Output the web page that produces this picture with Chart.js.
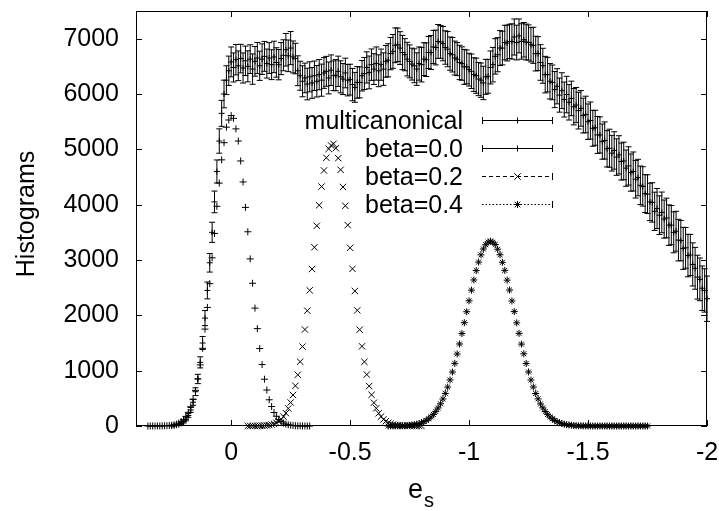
<!DOCTYPE html>
<html>
<head>
<meta charset="utf-8">
<title>Histograms</title>
<script src="https://cdn.jsdelivr.net/npm/chart.js@4.4.0/dist/chart.umd.min.js"></script>
<style>
  html, body { margin: 0; padding: 0; background: #fff; }
  #wrap { width: 719px; height: 511px; }
</style>
</head>
<body>
<div id="wrap"><canvas id="histo" width="719" height="511"></canvas></div>
<script>
// axis ticks
const xTicks = [0, -0.5, -1, -1.5, -2];
const yTicks = [0, 1000, 2000, 3000, 4000, 5000, 6000, 7000];

// histogram bins are 0.01 wide in e_s, listed from the left (largest e_s) to the right
const binWidth = 0.01;

const seriesNames = ['multicanonical', 'beta=0.0', 'beta=0.2', 'beta=0.4'];

// multicanonical run, first bin at e_s = 0.25, last at -2.00
const multiStart = 0.25;
const multiValues = [
  3, 7, 14, 25, 45, 75, 120, 190, 290, 430,
  620, 850, 1150, 1500, 1950, 2450, 2950, 3500, 4050, 4600,
  5150, 5650, 6000, 6250, 6420, 6580, 6480, 6620, 6510, 6640,
  6470, 6600, 6500, 6630, 6450, 6590, 6650, 6510, 6630, 6680,
  6550, 6650, 6530, 6670, 6570, 6530, 6640, 6700, 6800, 6690,
  6830, 6670, 6640, 6420, 6330, 6230, 6290, 6180, 6310, 6200,
  6330, 6230, 6350, 6250, 6380, 6410, 6290, 6430, 6330, 6340,
  6410, 6310, 6270, 6380, 6250, 6260, 6170, 6120, 6210, 6210,
  6330, 6370, 6480, 6390, 6530, 6450, 6550, 6420, 6530, 6450,
  6590, 6610, 6730, 6770, 6880, 6890, 6830, 6750, 6710, 6630,
  6590, 6540, 6510, 6450, 6550, 6530, 6630, 6620, 6750, 6750,
  6850, 6840, 6950, 6940, 6910, 6840, 6810, 6730, 6710, 6650,
  6630, 6570, 6550, 6490, 6490, 6440, 6410, 6350, 6330, 6270,
  6250, 6200, 6310, 6320, 6480, 6530, 6680, 6710, 6830, 6830,
  6930, 6920, 6950, 6950, 7030, 6930, 7050, 6950, 6980, 6940,
  6930, 6890, 6880, 6730, 6730, 6570, 6510, 6350, 6350, 6230,
  6210, 6080, 6140, 5980, 6060, 5900, 5990, 5850, 5920, 5770,
  5800, 5700, 5740, 5610, 5630, 5500, 5520, 5380, 5390, 5260,
  5260, 5140, 5160, 5010, 5020, 4930, 4980, 4860, 4900, 4780,
  4790, 4660, 4700, 4580, 4600, 4460, 4490, 4350, 4330, 4200,
  4190, 4050, 4040, 3880, 3930, 3810, 3860, 3740, 3760, 3630,
  3630, 3500, 3520, 3360, 3350, 3210, 3220, 3080, 3090, 2920,
  2850, 2690, 2650, 2490, 2450, 2300
];
const multiErrors = [
  4, 6, 8, 11, 15, 20, 26, 34, 44, 56,
  70, 84, 100, 118, 136, 152, 168, 182, 196, 208,
  220, 235, 250, 260, 265, 270, 262, 275, 268, 258,
  272, 266, 280, 260, 274, 268, 282, 264, 276, 270,
  262, 278, 270, 284, 266, 274, 290, 280, 294, 286,
  300, 288, 276, 270, 262, 280, 268, 286, 272, 278,
  266, 284, 274, 290, 278, 270, 288, 276, 268, 282,
  274, 290, 280, 268, 284, 278, 292, 270, 286, 280,
  276, 290, 282, 296, 284, 278, 300, 288, 282, 294,
  286, 300, 292, 306, 314, 302, 296, 310, 290, 304,
  298, 288, 306, 294, 300, 312, 296, 304, 290, 308,
  300, 314, 306, 296, 310, 302, 318, 300, 312, 306,
  298, 310, 302, 316, 306, 296, 312, 304, 318, 300,
  310, 302, 316, 306, 298, 312, 320, 308, 316, 304,
  312, 322, 310, 318, 326, 314, 306, 320, 312, 324,
  318, 310, 326, 314, 306, 322, 316, 330, 312, 320,
  314, 326, 318, 308, 324, 316, 330, 320, 312, 328,
  318, 332, 322, 314, 330, 320, 336, 324, 316, 334,
  326, 318, 336, 328, 344, 322, 338, 330, 346, 334,
  340, 328, 346, 336, 352, 340, 330, 348, 356, 342,
  350, 338, 356, 346, 362, 350, 368, 344, 358, 366,
  354, 370, 360, 376, 364, 380, 368, 384, 372, 390,
  378, 396, 386, 402, 392, 410
];

// canonical runs
const beta00Start = 0.35;
const beta00Values = [
  0, 0, 0, 0, 1, 1, 2,
  3, 5, 8, 14, 22, 34, 53, 80, 119, 173,
  247, 348, 478, 644, 851, 1104, 1404, 1751, 2143, 2572,
  3040, 3480, 3970, 4390, 4810, 5120, 5400, 5530, 5610, 5560,
  5370, 5150, 4790, 4410, 3950, 3510, 3020, 2580, 2130, 1760,
  1400, 1110, 846, 650, 474, 352, 244, 176, 117, 82,
  53, 34, 22, 14, 8, 5, 3, 2, 1, 1,
  0, 0
];

const beta02Start = -0.07;
const beta02Values = [
  0, 0, 1, 1, 2, 3, 4, 7, 11, 17,
  26, 39, 58, 84, 120, 168, 233, 317, 425, 560,
  726, 926, 1162, 1435, 1743, 2084, 2452, 2837, 3230, 3619,
  3990, 4327, 4618, 4848, 5008, 5070, 5100, 5020, 4840, 4630,
  4320, 3980, 3630, 3220, 2840, 2440, 2090, 1740, 1440, 1160,
  930, 722, 564, 421, 320, 230, 170, 118, 86, 57,
  40, 25, 17, 11, 7, 4, 3, 2, 1, 1,
  0, 0, 0, 0
];

const beta04Start = -0.66;
const beta04Values = [
  0, 1, 1, 2, 2, 3, 4, 6, 9, 13,
  18, 24, 33, 44, 59, 77, 100, 130, 165, 209,
  263, 326, 401, 488, 589, 703, 833, 975, 1132, 1302,
  1482, 1671, 1867, 2065, 2263, 2455, 2639, 2809, 2962, 3093,
  3199, 3276, 3324, 3340, 3320, 3280, 3195, 3095, 2958, 2812,
  2636, 2458, 2260, 2068, 1864, 1674, 1480, 1305, 1130, 977,
  831, 705, 587, 490, 399, 328, 262, 210, 164, 131,
  100, 77, 59, 44, 33, 24, 18, 13, 9, 6,
  4, 3, 2, 2, 1, 1, 0, 0, 0, 0,
  0, 0, 0, 0, 0, 0, 0, 0, 0, 0,
  0, 0, 0, 0, 0, 0, 0, 0, 0, 0
];

function toPoints(start, values) {
  return values.map((v, i) => ({ x: +(start - i * binWidth).toFixed(2), y: v }));
}

const multiPoints = toPoints(multiStart, multiValues);
const fontFamily = '"Liberation Sans", Arial, Helvetica, sans-serif';

// error bars of the multicanonical run
const errorBars = {
  id: 'errorBars',
  afterDatasetsDraw(chart) {
    const ctx = chart.ctx, xs = chart.scales.x, ys = chart.scales.y;
    ctx.save();
    ctx.strokeStyle = '#000';
    ctx.lineWidth = 1;
    ctx.beginPath();
    multiPoints.forEach((p, i) => {
      const px = xs.getPixelForValue(p.x);
      const top = ys.getPixelForValue(p.y + multiErrors[i]);
      const bot = ys.getPixelForValue(Math.max(0, p.y - multiErrors[i]));
      ctx.moveTo(px, top); ctx.lineTo(px, bot);
      ctx.moveTo(px - 3, top); ctx.lineTo(px + 3, top);
      ctx.moveTo(px - 3, bot); ctx.lineTo(px + 3, bot);
    });
    ctx.stroke();
    ctx.restore();
  }
};

function marker(ctx, style, x, y, r) {
  ctx.beginPath();
  if (style === 'cross' || style === 'star') {
    ctx.moveTo(x - r, y); ctx.lineTo(x + r, y);
    ctx.moveTo(x, y - r); ctx.lineTo(x, y + r);
  }
  if (style === 'crossRot' || style === 'star') {
    const d = r * 0.8;
    ctx.moveTo(x - d, y - d); ctx.lineTo(x + d, y + d);
    ctx.moveTo(x - d, y + d); ctx.lineTo(x + d, y - d);
  }
  ctx.stroke();
}

// frame with inward ticks, axis titles and key
const frame = {
  id: 'frame',
  afterDraw(chart) {
    const ctx = chart.ctx, a = chart.chartArea;
    const xs = chart.scales.x, ys = chart.scales.y;
    ctx.save();
    ctx.strokeStyle = '#000';
    ctx.fillStyle = '#000';
    ctx.lineWidth = 1;
    ctx.strokeRect(a.left + 0.5, a.top + 0.5, a.right - a.left - 1, a.bottom - a.top - 1);
    ctx.beginPath();
    xTicks.forEach(v => {
      const px = Math.round(xs.getPixelForValue(v)) + 0.5;
      ctx.moveTo(px, a.bottom); ctx.lineTo(px, a.bottom - 6);
      ctx.moveTo(px, a.top); ctx.lineTo(px, a.top + 6);
    });
    yTicks.forEach(v => {
      const py = Math.round(ys.getPixelForValue(v)) + 0.5;
      ctx.moveTo(a.left, py); ctx.lineTo(a.left + 6, py);
      ctx.moveTo(a.right, py); ctx.lineTo(a.right - 6, py);
    });
    ctx.stroke();

    // y title
    ctx.save();
    ctx.translate(27, 214);
    ctx.rotate(-Math.PI / 2);
    ctx.font = '25px ' + fontFamily;
    ctx.textAlign = 'center';
    ctx.textBaseline = 'middle';
    ctx.fillText('Histograms', 0, 0);
    ctx.restore();

    // x title: e with subscript s
    ctx.textAlign = 'left';
    ctx.textBaseline = 'alphabetic';
    ctx.font = '27px ' + fontFamily;
    ctx.fillText('e', 408, 498);
    ctx.font = '20px ' + fontFamily;
    ctx.fillText('s', 424, 507);

    // key
    const rows = [
      { y: 120, dash: [], style: 'cross', r: 3, caps: [true, true] },
      { y: 148, dash: [], style: 'cross', r: 3, caps: [true, true] },
      { y: 176, dash: [4, 3], style: 'crossRot', r: 4, caps: [false, true] },
      { y: 204, dash: [1.5, 2], style: 'star', r: 3.5, caps: [false, true] }
    ];
    const x0 = 482, x1 = 553, xm = 517.5;
    rows.forEach((row, i) => {
      ctx.font = '25px ' + fontFamily;
      ctx.textAlign = 'right';
      ctx.textBaseline = 'middle';
      ctx.fillText(seriesNames[i], 463, row.y + 2);
      ctx.setLineDash(row.dash);
      ctx.beginPath();
      ctx.moveTo(x0, row.y + 0.5); ctx.lineTo(x1, row.y + 0.5);
      ctx.stroke();
      ctx.setLineDash([]);
      ctx.beginPath();
      if (row.caps[0]) { ctx.moveTo(x0 + 0.5, row.y - 3); ctx.lineTo(x0 + 0.5, row.y + 4); }
      if (row.caps[1]) { ctx.moveTo(x1 - 0.5, row.y - 3); ctx.lineTo(x1 - 0.5, row.y + 4); }
      ctx.stroke();
      marker(ctx, row.style, xm, row.y + 0.5, row.r);
    });
    ctx.restore();
  }
};

const tickFont = { family: fontFamily, size: 25 };

new Chart(document.getElementById('histo'), {
  type: 'scatter',
  data: {
    datasets: [
      { label: seriesNames[0], data: multiPoints, pointStyle: 'cross', pointRadius: 3,
        borderColor: '#000', backgroundColor: '#000', borderWidth: 1, showLine: false, clip: false },
      { label: seriesNames[1], data: toPoints(beta00Start, beta00Values), pointStyle: 'cross', pointRadius: 3.5,
        borderColor: '#000', backgroundColor: '#000', borderWidth: 1, showLine: false, clip: false },
      { label: seriesNames[2], data: toPoints(beta02Start, beta02Values), pointStyle: 'crossRot', pointRadius: 4.5,
        borderColor: '#000', backgroundColor: '#000', borderWidth: 1, showLine: false, clip: false },
      { label: seriesNames[3], data: toPoints(beta04Start, beta04Values), pointStyle: 'star', pointRadius: 3.5,
        borderColor: '#000', backgroundColor: '#000', borderWidth: 1, showLine: false, clip: false }
    ]
  },
  options: {
    responsive: false,
    animation: false,
    devicePixelRatio: 1,
    events: [],
    layout: { padding: { top: 11, right: 12, left: 0, bottom: 0 } },
    plugins: { legend: { display: false }, tooltip: { enabled: false } },
    scales: {
      x: {
        type: 'linear', reverse: true, min: -2, max: 0.4,
        afterBuildTicks: s => { s.ticks = xTicks.map(v => ({ value: v })); },
        afterFit: s => { s.height = 85; s.paddingLeft = 0; s.paddingRight = 0; },
        grid: { display: false, drawTicks: false },
        border: { display: false },
        ticks: { autoSkip: false, maxRotation: 0, padding: 12, color: '#000', font: tickFont,
                 callback: v => String(v) }
      },
      y: {
        type: 'linear', min: 0, max: 7500,
        afterBuildTicks: s => { s.ticks = yTicks.map(v => ({ value: v })); },
        afterFit: s => { s.width = 136; s.paddingTop = 0; s.paddingBottom = 0; },
        grid: { display: false, drawTicks: false },
        border: { display: false },
        ticks: { autoSkip: false, padding: 17, color: '#000', font: tickFont,
                 callback: v => String(v) }
      }
    }
  },
  plugins: [errorBars, frame]
});
</script>
</body>
</html>
